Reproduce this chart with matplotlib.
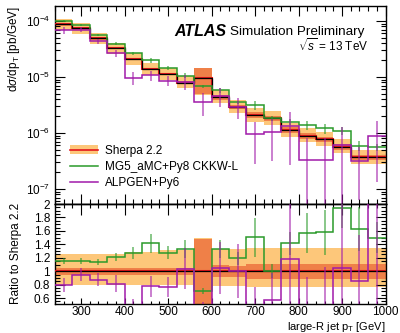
import numpy as np
import matplotlib
matplotlib.use("Agg")
import matplotlib.pyplot as plt
from matplotlib.ticker import MultipleLocator, LogLocator, NullFormatter, FixedLocator, FuncFormatter
from matplotlib.patches import Patch
from matplotlib.lines import Line2D

plt.rcParams["font.family"] = ["Liberation Sans", "DejaVu Sans"]
plt.rcParams["mathtext.fontset"] = "custom"
plt.rcParams["mathtext.rm"] = "Liberation Sans"
plt.rcParams["mathtext.it"] = "Liberation Sans:italic"
plt.rcParams["mathtext.bf"] = "Liberation Sans:bold"
plt.rcParams["mathtext.sf"] = "Liberation Sans"

# ---- data: large-R jet pT spectrum, 40 GeV bins from 240 to 1000 GeV ----
bin_edges = np.arange(240, 1001, 40)

sherpa = [8.66e-5, 7.41e-5, 4.91e-5, 3.26e-5, 2.10e-5, 1.39e-5, 1.12e-5, 7.91e-6,
          9.71e-6, 4.34e-6, 2.95e-6, 2.10e-6, 1.83e-6, 1.13e-6, 8.95e-7, 7.72e-7,
          5.69e-7, 3.68e-7, 3.68e-7]
sherpa_stat_rel = [0.05, 0.05, 0.05, 0.05, 0.05, 0.05, 0.05, 0.05, 0.48, 0.09,
                   0.08, 0.11, 0.11, 0.11, 0.11, 0.11, 0.11, 0.11, 0.11]
sherpa_tot_up = [0.26, 0.26, 0.26, 0.26, 0.28, 0.28, 0.31, 0.31, 0.50, 0.33,
                 0.33, 0.35, 0.35, 0.35, 0.35, 0.35, 0.35, 0.35, 0.35]
sherpa_tot_dn = [0.21, 0.21, 0.21, 0.21, 0.21, 0.21, 0.21, 0.21, 0.50, 0.22,
                 0.22, 0.24, 0.24, 0.24, 0.24, 0.24, 0.24, 0.24, 0.24]

mg5 = [1.00e-4, 8.56e-5, 5.60e-5, 3.94e-5, 2.66e-5, 1.97e-5, 1.43e-5, 1.05e-5,
       6.85e-6, 5.75e-6, 3.51e-6, 3.16e-6, 1.84e-6, 1.60e-6, 1.40e-6, 1.22e-6,
       1.10e-6, 5.98e-7, 5.52e-7]
mg5_rel = [0.04, 0.04, 0.04, 0.05, 0.07, 0.10, 0.08, 0.10, 0.07, 0.10,
           0.08, 0.19, 0.10, 0.12, 0.19, 0.21, 0.15, 0.20, 0.15]

alpgen = [6.84e-5, 7.04e-5, 4.30e-5, 2.66e-5, 9.74e-6, 1.08e-5, 8.57e-6, 8.23e-6,
          3.62e-6, 4.56e-6, 2.95e-6, 9.43e-7, 1.05e-6, 1.33e-6, 3.29e-7, 3.30e-7,
          6.00e-7, 3.15e-7, 8.83e-7]
alpgen_rel = [0.13, 0.10, 0.11, 0.15, 0.25, 0.20, 0.20, 0.30, 0.45, 0.37,
              0.40, 0.70, 0.70, 0.80, 1.50, 1.50, 1.10, 0.80, 0.85]

labels = ["Sherpa 2.2", "MG5_aMC+Py8 CKKW-L", "ALPGEN+Py6"]

# ---- styling ----
c_light = "#fdc77a"
c_dark = "#ef8048"
c_red = "#e3161c"
c_green = "#2a9a2a"
c_purple = "#a01aaa"

sherpa = np.array(sherpa)
mg5 = np.array(mg5)
alpgen = np.array(alpgen)
centers = 0.5 * (bin_edges[:-1] + bin_edges[1:])

fig = plt.figure(figsize=(4.0, 3.33), dpi=100)
W, H = 400.0, 333.0
ax = fig.add_axes([55 / W, 1 - 204 / H, 330.5 / W, 198 / H])
rax = fig.add_axes([55 / W, 1 - 303.5 / H, 330.5 / W, 99.5 / H], sharex=ax)


def draw_panel(a, nom, g, p):
    s_up = np.array(sherpa_tot_up)
    s_dn = np.array(sherpa_tot_dn)
    s_st = np.array(sherpa_stat_rel)
    a.stairs(nom * (1 + s_up), bin_edges, baseline=nom * (1 - s_dn), fill=True,
             color=c_light, lw=0, zorder=1)
    a.stairs(nom * (1 + s_st), bin_edges, baseline=nom * (1 - s_st), fill=True,
             color=c_dark, lw=0, zorder=2)
    a.stairs(nom, bin_edges, color=c_red, lw=1.5, baseline=None, zorder=3)
    a.stairs(nom, bin_edges, color="black", lw=0.9, baseline=None, zorder=4)

    a.stairs(g, bin_edges, color=c_green, lw=1.1, baseline=None, zorder=5)
    ge = g * np.array(mg5_rel)
    a.errorbar(centers, g, yerr=[np.minimum(ge, g - 1e-12), ge], fmt="none",
               ecolor=c_green, elinewidth=1.2, alpha=0.65, zorder=5)

    a.stairs(p, bin_edges, color=c_purple, lw=1.1, baseline=None, zorder=6)
    pe = p * np.array(alpgen_rel)
    a.errorbar(centers, p, yerr=[np.minimum(pe, p - 1e-12), pe], fmt="none",
               ecolor=c_purple, elinewidth=1.2, alpha=0.65, zorder=6)


draw_panel(ax, sherpa, mg5, alpgen)
ones = np.ones_like(sherpa)
draw_panel(rax, ones, mg5 / sherpa, alpgen / sherpa)

# ---- top panel axes ----
ax.set_yscale("log")
ax.set_xlim(240, 1000)
ax.set_ylim(5.4e-8, 1.85e-4)
ax.yaxis.set_major_locator(LogLocator(base=10, numticks=20))
ax.yaxis.set_minor_locator(LogLocator(base=10, subs=np.arange(2, 10), numticks=50))
ax.yaxis.set_minor_formatter(NullFormatter())
ax.xaxis.set_major_locator(MultipleLocator(100))
ax.xaxis.set_minor_locator(MultipleLocator(20))
ax.tick_params(which="both", direction="in", top=True, right=True,
               labelbottom=False, labelsize=8.5, width=0.8)
ax.tick_params(which="major", length=7.2)
ax.tick_params(which="minor", length=3.6)
ax.set_ylabel(r"d$\sigma$/dp$_{\mathrm{T}}$ [pb/GeV]", fontsize=8.5, loc="top")

# ---- ratio panel axes ----
rax.set_ylim(0.52, 2.0)
rax.yaxis.set_major_locator(FixedLocator([0.6, 0.8, 1.0, 1.2, 1.4, 1.6, 1.8, 2.0]))
rax.yaxis.set_minor_locator(MultipleLocator(0.05))
rax.yaxis.set_major_formatter(FuncFormatter(lambda v, _: f"{v:g}"))
rax.tick_params(which="both", direction="in", top=False, right=True,
                labelsize=8.5, width=0.8)
rax.tick_params(axis="y", which="major", length=7.2)
rax.tick_params(axis="y", which="minor", length=3.6)
rax.tick_params(axis="x", which="major", length=4.0, pad=2)
rax.tick_params(axis="x", which="minor", length=2.0)
top_ticks = rax.secondary_xaxis("top")
top_ticks.xaxis.set_major_locator(MultipleLocator(100))
top_ticks.xaxis.set_minor_locator(MultipleLocator(20))
top_ticks.tick_params(which="both", direction="in", labeltop=False, width=0.8)
top_ticks.tick_params(which="major", length=8.0)
top_ticks.tick_params(which="minor", length=3.0)
rax.set_ylabel("Ratio to Sherpa 2.2", fontsize=8.5)
rax.set_xlabel(r"large-R jet p$_{\mathrm{T}}$ [GeV]", fontsize=8.0, loc="right")

for a in (ax, rax):
    for sp in a.spines.values():
        sp.set_linewidth(1.0)
for sp in top_ticks.spines.values():
    sp.set_linewidth(1.0)

# y titles sit just left of the tick labels
ax.yaxis.set_label_coords(-0.100, 1.0)
rax.yaxis.set_label_coords(-0.100, 0.5)
rax.xaxis.set_label_coords(1.0, -0.165)
rax.xaxis.label.set_va("top")

# ---- labels ----
fig.text(174 / W, 1 - 32 / H, "ATLAS", fontsize=11.5, fontweight="bold",
         fontstyle="italic", va="center", ha="left")
fig.text(230 / W, 1 - 32 / H, "Simulation Preliminary", fontsize=9.7,
         va="center", ha="left")
fig.text(368 / W, 1 - 46 / H, r"$\sqrt{s}$ = 13 TeV", fontsize=8.5,
         va="center", ha="right")

# ---- legend ----
handles = [
    (Patch(facecolor=c_light, edgecolor="none"), Line2D([], [], color=c_red, lw=1.2)),
    Line2D([], [], color=c_green, lw=1.1),
    Line2D([], [], color=c_purple, lw=1.1),
]
fig.legend(handles, labels, loc="upper left", bbox_to_anchor=(70 / W, 1 - 145 / H),
           bbox_transform=fig.transFigure, frameon=False, fontsize=8.5,
           borderpad=0, borderaxespad=0, handlelength=2.4, handletextpad=0.6,
           labelspacing=0.35, handleheight=0.8)

fig.savefig("out.png", dpi=100)
